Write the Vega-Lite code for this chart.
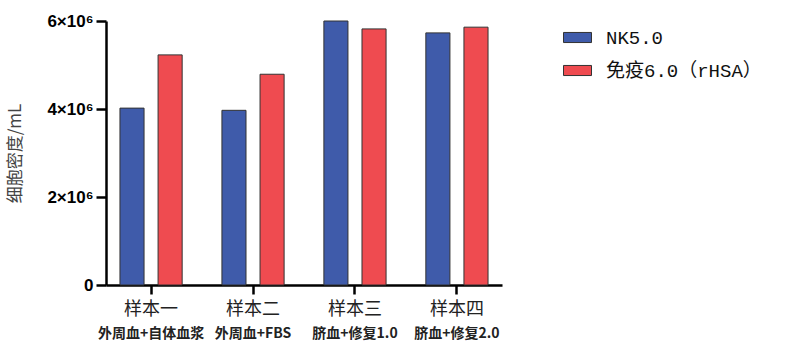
{
  "$schema": "https://vega.github.io/schema/vega-lite/v6.json",
  "width": 396,
  "height": 264,
  "autosize": {"type": "none"},
  "padding": {"left": 106, "top": 21, "right": 289, "bottom": 66},
  "config": {
    "view": {"stroke": null},
    "font": "Noto Sans CJK SC",
    "axis": {"domainColor": "#000000", "domainWidth": 2.5, "tickColor": "#000000", "tickWidth": 2.5}
  },
  "data": {"values": [
    {"sample": "样本一", "medium": "NK5.0", "value": 4020000},
    {"sample": "样本一", "medium": "免疫6.0（rHSA）", "value": 5230000},
    {"sample": "样本二", "medium": "NK5.0", "value": 3970000},
    {"sample": "样本二", "medium": "免疫6.0（rHSA）", "value": 4790000},
    {"sample": "样本三", "medium": "NK5.0", "value": 6000000},
    {"sample": "样本三", "medium": "免疫6.0（rHSA）", "value": 5820000},
    {"sample": "样本四", "medium": "NK5.0", "value": 5730000},
    {"sample": "样本四", "medium": "免疫6.0（rHSA）", "value": 5860000}
  ]},
  "layer": [
    {
      "mark": {"type": "bar", "opacity": 0},
      "encoding": {
        "x": {
          "field": "sample", "type": "nominal",
          "sort": ["样本一", "样本二", "样本三", "样本四"],
          "scale": {"paddingInner": 0.39, "paddingOuter": 0.137},
          "axis": {
            "title": null, "labelAngle": 0, "domain": false, "ticks": false, "labelPadding": 41,
            "labelFontSize": 14, "labelFontWeight": "bold", "labelColor": "#222222", "orient": "bottom",
            "labelExpr": "datum.label == '样本一' ? '外周血+自体血浆' : datum.label == '样本二' ? '外周血+FBS' : datum.label == '样本三' ? '脐血+修复1.0' : '脐血+修复2.0'"
          }
        }
      }
    },
    {
      "mark": {"type": "bar", "stroke": "#333333", "strokeWidth": 1},
      "encoding": {
        "x": {
          "field": "sample", "type": "nominal",
          "sort": ["样本一", "样本二", "样本三", "样本四"],
          "axis": {
            "title": null, "labelAngle": 0, "orient": "bottom", "domain": true, "ticks": true,
            "domainColor": "#000000", "domainWidth": 2.5,
            "tickColor": "#000000", "tickWidth": 2.5, "tickSize": 9, "labelPadding": 6,
            "labelFontSize": 18, "labelColor": "#222222", "labelFont": "Noto Sans CJK SC"
          }
        },
        "xOffset": {
          "field": "medium", "sort": ["NK5.0", "免疫6.0（rHSA）"],
          "scale": {"paddingInner": 0.368, "paddingOuter": 0}
        },
        "y": {
          "field": "value", "type": "quantitative",
          "scale": {"domain": [0, 6000000], "nice": false},
          "axis": {
            "title": "细胞密度/mL", "titleFontSize": 17, "titleColor": "#444444", "titleFontWeight": "normal",
            "titleFont": "Noto Sans CJK SC", "titlePadding": 22,
            "values": [0, 2000000, 4000000, 6000000], "grid": false, "domain": true, "ticks": true,
            "labelExpr": "datum.value == 0 ? '0' : (datum.value / 1000000) + '×10⁶'",
            "labelFont": "Liberation Sans", "labelFontWeight": "bold", "labelFontSize": 17, "labelColor": "#000000",
            "domainColor": "#000000", "domainWidth": 2.5,
            "tickColor": "#000000", "tickWidth": 2.5, "tickSize": 10,
            "labelPadding": 3
          }
        },
        "color": {
          "field": "medium", "type": "nominal",
          "scale": {"domain": ["NK5.0", "免疫6.0（rHSA）"], "range": ["#3F5BAA", "#EF4B50"]},
          "legend": {
            "title": null, "orient": "none", "legendX": 457, "legendY": 2,
            "symbolType": "M-1,-0.36L1,-0.36L1,0.36L-1,0.36Z", "symbolSize": 784,
            "symbolStrokeColor": "#333333", "symbolStrokeWidth": 1,
            "labelFontSize": 19, "labelColor": "#111111", "labelFont": "Liberation Mono, Noto Sans CJK SC",
            "rowPadding": 8, "labelOffset": 14
          }
        }
      }
    }
  ],
  "resolve": {"axis": {"x": "independent"}}
}
